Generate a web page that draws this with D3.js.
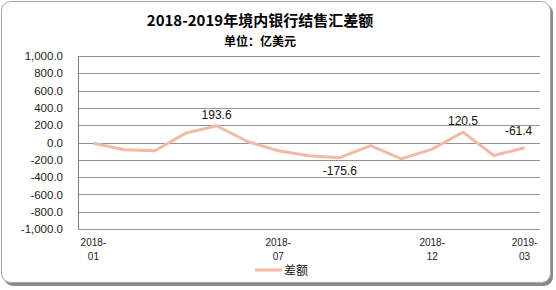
<!DOCTYPE html>
<html>
<head>
<meta charset="utf-8">
<script src="https://cdn.jsdelivr.net/npm/d3@7"></script>
<style>
  body { margin: 0; background: #fff; }
  svg { display: block; font-family: "Liberation Sans", "DejaVu Sans", sans-serif; }
</style>
</head>
<body>
<div id="chart"></div>
<script>
// months and net settlement values (100 million USD)
var months = ["2018-01", "2018-02", "2018-03", "2018-04", "2018-05", "2018-06", "2018-07",
              "2018-08", "2018-09", "2018-10", "2018-11", "2018-12", "2019-01", "2019-02", "2019-03"];
var values = [-9, -84, -96, 108, 193.6, 12, -96, -154, -175.6, -35, -188, -77, 120.5, -150, -61.4];
var tickMonths = ["2018-01", "2018-07", "2018-12", "2019-03"];
var yTicks = [-1000, -800, -600, -400, -200, 0, 200, 400, 600, 800, 1000];
var labelled = ["2018-05", "2018-09", "2019-01", "2019-03"];

// plain hyphen for negatives, like the original
function fmt(spec) {
    var f = d3.format(spec);
    return function(d) { return f(d).replace("\u2212", "-"); };
}

function init() {
    var w = 556, h = 290;
    var left = 78, right = 540, top = 56, bottom = 229;
    var lineColor = "#f2b9a6";

    var svg = d3.select("#chart").append("svg")
        .attr("width", w)
        .attr("height", h);

    // outer frame with shadow
    svg.append("rect")
        .attr("x", 4).attr("y", 4)
        .attr("width", 549).attr("height", 282)
        .attr("rx", 9)
        .attr("fill", "#8a8a8a");
    svg.append("rect")
        .attr("x", 1.5).attr("y", 1.5)
        .attr("width", 549).attr("height", 281)
        .attr("rx", 9)
        .attr("fill", "#fff")
        .attr("stroke", "#a6a6a6");

    // titles
    svg.append("text")
        .attr("x", 260).attr("y", 26)
        .attr("text-anchor", "middle")
        .style("font-size", "15px")
        .style("font-weight", "bold")
        .style("font-family", "'Noto Sans CJK SC', sans-serif")
        .text("2018-2019年境内银行结售汇差额");
    svg.append("text")
        .attr("x", 260).attr("y", 46)
        .attr("text-anchor", "middle")
        .style("font-size", "12px")
        .style("font-weight", "bold")
        .style("font-family", "'Noto Sans CJK SC', sans-serif")
        .text("单位：亿美元");

    var xScale = d3.scalePoint()
        .domain(months)
        .range([left, right])
        .padding(0.5);

    var yScale = d3.scaleLinear()
        .domain([-1000, 1000])
        .range([bottom, top]);

    // gridlines
    svg.append("g")
        .selectAll("line")
        .data(yTicks)
        .enter()
        .append("line")
        .attr("x1", left).attr("x2", right)
        .attr("y1", function(d) { return Math.round(yScale(d)) + 0.5; })
        .attr("y2", function(d) { return Math.round(yScale(d)) + 0.5; })
        .attr("stroke", "#939393")
        .attr("stroke-width", 1);

    // y axis
    var yAxis = d3.axisLeft(yScale)
        .tickValues(yTicks)
        .tickSize(0)
        .tickPadding(15)
        .tickFormat(fmt(",.1f"));
    var yg = svg.append("g")
        .attr("transform", "translate(" + left + ",0)")
        .call(yAxis);
    yg.select(".domain").attr("stroke", "#7f7f7f");
    yg.selectAll("text")
        .style("font-size", "11.5px")
        .attr("fill", "#222");

    // x axis labels (two lines)
    var xg = svg.append("g");
    var xl = xg.selectAll("text")
        .data(tickMonths)
        .enter()
        .append("text")
        .attr("x", function(d) { return xScale(d); })
        .attr("y", 246)
        .attr("text-anchor", "middle")
        .style("font-size", "10px")
        .attr("fill", "#222");
    xl.append("tspan")
        .attr("x", function(d) { return xScale(d); })
        .text(function(d) { return d.slice(0, 5); });
    xl.append("tspan")
        .attr("x", function(d) { return xScale(d); })
        .attr("dy", 14)
        .text(function(d) { return d.slice(5); });

    // line
    var line = d3.line()
        .x(function(d, i) { return xScale(months[i]); })
        .y(function(d) { return yScale(d); });
    svg.append("path")
        .datum(values)
        .attr("d", line)
        .attr("fill", "none")
        .attr("stroke", lineColor)
        .attr("stroke-width", 3)
        .attr("stroke-linejoin", "round");

    // data labels
    var offsets = { "2018-05": [0, -7], "2018-09": [0, 17], "2019-01": [0, -7], "2019-03": [-6, -13] };
    var labelFmt = fmt(".1f");
    svg.append("g")
        .selectAll("text")
        .data(labelled)
        .enter()
        .append("text")
        .attr("x", function(d) { return xScale(d) + offsets[d][0]; })
        .attr("y", function(d) { return yScale(values[months.indexOf(d)]) + offsets[d][1]; })
        .attr("text-anchor", "middle")
        .style("font-size", "12px")
        .attr("fill", "#111")
        .text(function(d) { return labelFmt(values[months.indexOf(d)]); });

    // legend
    svg.append("line")
        .attr("x1", 255).attr("x2", 282)
        .attr("y1", 270).attr("y2", 270)
        .attr("stroke", lineColor)
        .attr("stroke-width", 3);
    svg.append("text")
        .attr("x", 284).attr("y", 275)
        .style("font-size", "12px")
        .style("font-family", "'Noto Sans CJK SC', sans-serif")
        .attr("fill", "#111")
        .text("差额");
}

window.onload = init;
</script>
</body>
</html>
